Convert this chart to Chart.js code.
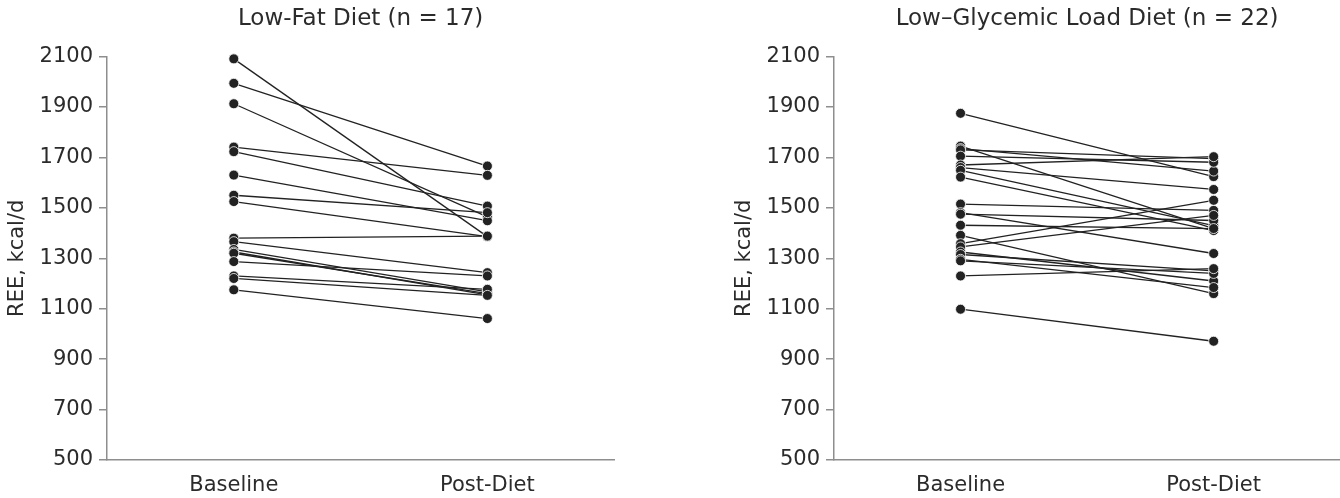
<!DOCTYPE html>
<html>
<head>
<meta charset="utf-8">
<script src="https://cdn.jsdelivr.net/npm/chart.js@4.4.1/dist/chart.umd.min.js"></script>
<style>
  html, body { margin: 0; padding: 0; background: #fff; }
  body { width: 1340px; height: 498px; position: relative; overflow: hidden; }
  .panel { position: absolute; top: 0; height: 498px; }
  #left { left: 0; width: 620px; }
  #right { left: 727px; width: 619px; }
</style>
</head>
<body>
<div class="panel" id="left"><canvas id="lowFatChart"></canvas></div>
<div class="panel" id="right"><canvas id="lowGlChart"></canvas></div>
<script>
// Data (kcal/d), one entry per subject
var categories = ["Baseline", "Post-Diet"];
var yTickValues = [500, 700, 900, 1100, 1300, 1500, 1700, 1900, 2100];

var lowFatBaseline = [2091, 1994, 1913, 1741, 1723, 1630, 1550, 1525, 1380, 1366, 1335, 1325, 1320, 1287, 1230, 1220, 1175];
var lowFatPost     = [1386, 1666, 1464, 1629, 1507, 1449, 1481, 1386, 1388, 1243, 1167, 1155, 1160, 1230, 1177, 1153, 1061];

var lowGlBaseline = [1875, 1745, 1735, 1730, 1705, 1670, 1660, 1649, 1622, 1515, 1481, 1475, 1431, 1391, 1358, 1345, 1325, 1315, 1296, 1290, 1230, 1098];
var lowGlPost     = [1624, 1418, 1646, 1695, 1681, 1703, 1573, 1430, 1410, 1490, 1319, 1450, 1418, 1160, 1530, 1470, 1210, 1250, 1184, 1240, 1259, 971];

var axisGray = "#8e8e8e";
var ink = "#222222";
var textInk = "#2b2b2b";
var fontFamily = "'DejaVu Sans', sans-serif";

function buildDatasets(before, after) {
  var sets = [];
  // one line per subject
  before.forEach(function (b, i) {
    sets.push({
      data: [b, after[i]],
      borderColor: ink,
      borderWidth: 1.3,
      pointRadius: 0,
      pointHoverRadius: 0,
      fill: false,
      order: 1
    });
  });
  // the dots on top of all lines
  sets.push({
    data: before.map(function (v) { return { x: categories[0], y: v }; })
      .concat(after.map(function (v) { return { x: categories[1], y: v }; })),
    showLine: false,
    pointRadius: 5,
    pointBackgroundColor: ink,
    pointBorderColor: "#ffffff",
    pointBorderWidth: 0.8,
    order: 0
  });
  return sets;
}

function makeChart(id, title, before, after) {
  return new Chart(document.getElementById(id), {
    type: "line",
    data: { labels: categories, datasets: buildDatasets(before, after) },
    options: {
      responsive: true,
      maintainAspectRatio: false,
      animation: false,
      clip: false,
      layout: { padding: 0 },
      plugins: {
        legend: { display: false },
        tooltip: { enabled: false },
        title: {
          display: true,
          text: title,
          fullSize: false,
          color: textInk,
          font: { family: fontFamily, size: 23, weight: "normal" },
          padding: { top: 5, bottom: 24 }
        }
      },
      scales: {
        x: {
          type: "category",
          offset: true,
          grid: { display: false, drawTicks: false },
          border: { display: true, color: axisGray, width: 1.5 },
          ticks: { color: textInk, padding: 13, font: { family: fontFamily, size: 21 } },
          afterFit: function (scale) { scale.height = 38; }
        },
        y: {
          min: 500,
          max: 2100,
          grid: { display: true, drawOnChartArea: false, drawTicks: true, tickLength: 8, color: axisGray, lineWidth: 1.5 },
          border: { display: true, color: axisGray, width: 1.5 },
          ticks: {
            color: textInk,
            padding: 6,
            font: { family: fontFamily, size: 21 },
            callback: function (value) { return String(value); }
          },
          afterBuildTicks: function (scale) {
            scale.ticks = yTickValues.map(function (v) { return { value: v }; });
          },
          title: {
            display: true,
            text: "REE, kcal/d",
            color: textInk,
            font: { family: fontFamily, size: 21 },
            padding: { top: 5, bottom: 0 }
          },
          afterFit: function (scale) { scale.width = 107; }
        }
      }
    }
  });
}

makeChart("lowFatChart", "Low-Fat Diet (n = 17)", lowFatBaseline, lowFatPost);
makeChart("lowGlChart", "Low\u2013Glycemic Load Diet (n = 22)", lowGlBaseline, lowGlPost);
</script>
</body>
</html>
